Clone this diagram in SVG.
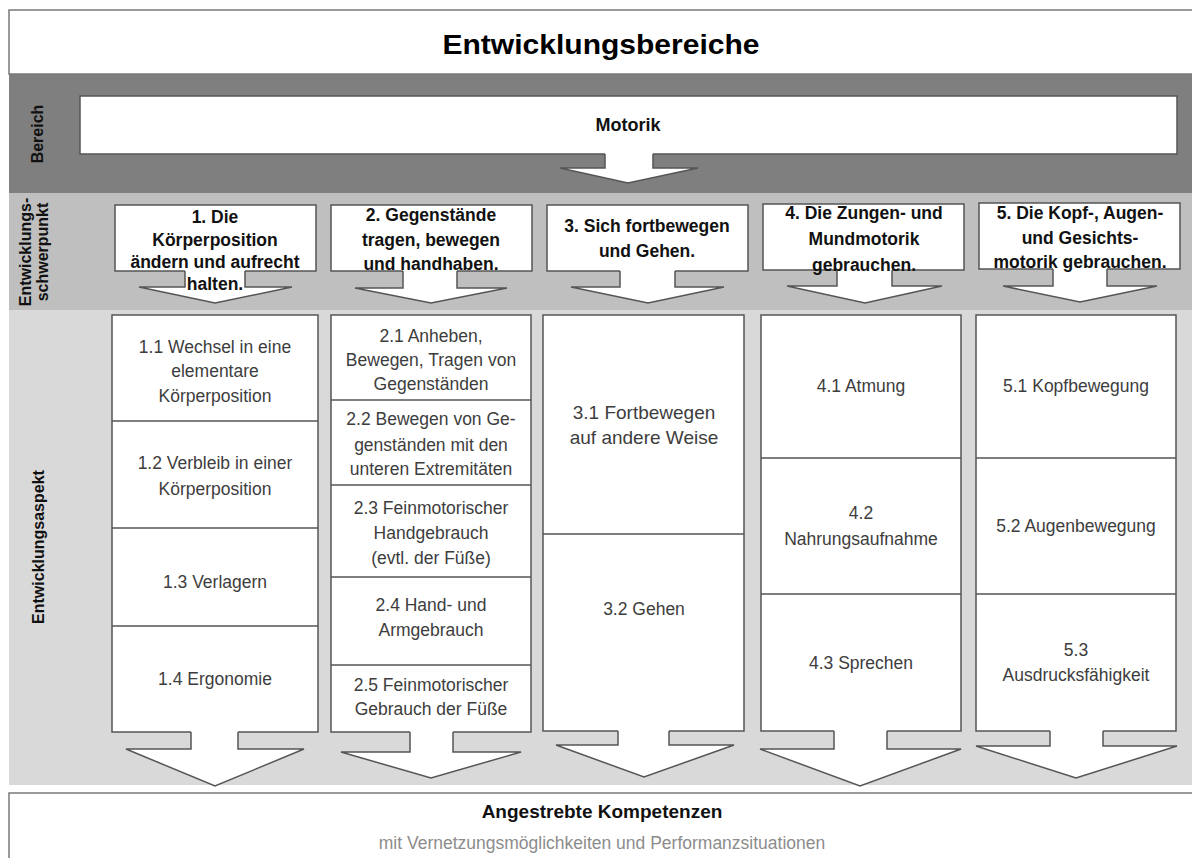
<svg xmlns="http://www.w3.org/2000/svg" width="1192" height="858" viewBox="0 0 1192 858">
<style>
.frame{fill:#fff;stroke:#7a7a7a;stroke-width:1.5}
.fill{fill:#fff;stroke:none}
.edge{fill:none;stroke:#555;stroke-width:1.5;stroke-linejoin:miter}
.arrow{fill:#fff;stroke:#555;stroke-width:1.5;stroke-linejoin:miter}
.div{stroke:#555;stroke-width:1.5}
.hdr{font-family:"Liberation Sans",Arial,sans-serif;font-weight:bold;font-size:17.5px;fill:#111;text-anchor:middle}
.asp{font-family:"Liberation Sans",Arial,sans-serif;font-size:17.5px;fill:#3d3d3d;text-anchor:middle}
.side{font-family:"Liberation Sans",Arial,sans-serif;font-weight:bold;font-size:16px;fill:#111;text-anchor:middle}
</style>
<rect x="0" y="0" width="1192" height="858" fill="#fff"/>
<g id="bands">
<rect x="9" y="74" width="1190" height="119" fill="#7f7f7f"/>
<rect x="9" y="193" width="1190" height="117" fill="#bfbfbf"/>
<rect x="9" y="310" width="1190" height="475" fill="#d9d9d9"/>
</g>
<g id="title">
<rect class="frame" x="9" y="10" width="1190" height="64"/>
<text x="601" y="54" font-family="Liberation Sans, Arial, sans-serif" font-weight="bold" font-size="28" text-anchor="middle" textLength="317" lengthAdjust="spacingAndGlyphs" fill="#000">Entwicklungsbereiche</text>
</g>
<g id="side-labels">
<text class="side" transform="translate(43,134) rotate(-90)">Bereich</text>
<text class="side" transform="translate(31,252) rotate(-90)">Entwicklungs-</text>
<text class="side" transform="translate(48,252) rotate(-90)">schwerpunkt</text>
<text class="side" transform="translate(44,547) rotate(-90)">Entwicklungsaspekt</text>
</g>
<g id="connectors">
<path class="arrow" d="M605,153 L605,168 L560,168 L628,183 L698,168 L653,168 L653,153"/>
<path class="arrow" d="M185,270 L185,287 L139,287 L215,303 L292,287 L245,287 L245,270"/>
<path class="arrow" d="M403,270 L403,288 L355,288 L431,303 L507,288 L457,288 L457,270"/>
<path class="arrow" d="M620,270 L620,287 L571,287 L648,303 L724,287 L675,287 L675,270"/>
<path class="arrow" d="M837,269 L837,286 L787,286 L865,303 L942,286 L892,286 L892,269"/>
<path class="arrow" d="M1053,268 L1053,286 L1003,286 L1080,302 L1157,286 L1107,286 L1107,268"/>
<path class="arrow" d="M191,731 L191,749 L126,749 L215,786 L304,749 L238,749 L238,731"/>
<path class="arrow" d="M410,731 L410,752 L341,752 L431,778 L521,752 L453,752 L453,731"/>
<path class="arrow" d="M618,730 L618,745 L556,745 L644,777 L734,745 L669,745 L669,730"/>
<path class="arrow" d="M834,730 L834,749 L760,749 L860,786 L961,749 L887,749 L887,730"/>
<path class="arrow" d="M1050,730 L1050,746 L976,746 L1076,778 L1177,746 L1103,746 L1103,730"/>
</g>
<g id="motorik">
<rect class="fill" x="80" y="96" width="1097" height="58"/>
<path class="edge" d="M605,154 L80,154 L80,96 L1177,96 L1177,154 L653,154"/>
<text x="628" y="131" font-family="Liberation Sans, Arial, sans-serif" font-weight="bold" font-size="18" text-anchor="middle" fill="#111">Motorik</text>
</g>
<g id="schwerpunkt-1">
<rect class="fill" x="115" y="205" width="201" height="66"/>
<path class="edge" d="M185,271 L115,271 L115,205 L316,205 L316,271 L245,271"/>
<text class="hdr" x="215" y="223">1. Die</text>
<text class="hdr" x="215" y="246">Körperposition</text>
<text class="hdr" x="215" y="268">ändern und aufrecht</text>
<text class="hdr" x="215" y="290">halten.</text>
</g>
<g id="schwerpunkt-2">
<rect class="fill" x="331" y="205" width="201" height="66"/>
<path class="edge" d="M403,271 L331,271 L331,205 L532,205 L532,271 L457,271"/>
<text class="hdr" x="431" y="221">2. Gegenstände</text>
<text class="hdr" x="431" y="246">tragen, bewegen</text>
<text class="hdr" x="431" y="270">und handhaben.</text>
</g>
<g id="schwerpunkt-3">
<rect class="fill" x="547" y="205" width="201" height="66"/>
<path class="edge" d="M620,271 L547,271 L547,205 L748,205 L748,271 L675,271"/>
<text class="hdr" x="647" y="232">3. Sich fortbewegen</text>
<text class="hdr" x="647" y="257">und Gehen.</text>
</g>
<g id="schwerpunkt-4">
<rect class="fill" x="763" y="204" width="201" height="66"/>
<path class="edge" d="M837,270 L763,270 L763,204 L964,204 L964,270 L892,270"/>
<text class="hdr" x="864" y="219">4. Die Zungen- und</text>
<text class="hdr" x="864" y="245">Mundmotorik</text>
<text class="hdr" x="864" y="271">gebrauchen.</text>
</g>
<g id="schwerpunkt-5">
<rect class="fill" x="979" y="203" width="201" height="66"/>
<path class="edge" d="M1053,269 L979,269 L979,203 L1180,203 L1180,269 L1107,269"/>
<text class="hdr" x="1080" y="219">5. Die Kopf-, Augen-</text>
<text class="hdr" x="1080" y="244">und Gesichts-</text>
<text class="hdr" x="1080" y="268">motorik gebrauchen.</text>
</g>
<g id="aspekt-1">
<rect class="fill" x="112" y="315" width="206" height="417"/>
<path class="edge" d="M191,732 L112,732 L112,315 L318,315 L318,732 L238,732"/>
<line class="div" x1="112" y1="421" x2="318" y2="421"/>
<line class="div" x1="112" y1="528" x2="318" y2="528"/>
<line class="div" x1="112" y1="626" x2="318" y2="626"/>
<text class="asp" x="215" y="353">1.1 Wechsel in eine</text>
<text class="asp" x="215" y="377">elementare</text>
<text class="asp" x="215" y="402">Körperposition</text>
<text class="asp" x="215" y="469">1.2 Verbleib in einer</text>
<text class="asp" x="215" y="495">Körperposition</text>
<text class="asp" x="215" y="588">1.3 Verlagern</text>
<text class="asp" x="215" y="685">1.4 Ergonomie</text>
</g>
<g id="aspekt-2">
<rect class="fill" x="331" y="315" width="200" height="417"/>
<path class="edge" d="M410,732 L331,732 L331,315 L531,315 L531,732 L453,732"/>
<line class="div" x1="331" y1="400" x2="531" y2="400"/>
<line class="div" x1="331" y1="485" x2="531" y2="485"/>
<line class="div" x1="331" y1="577" x2="531" y2="577"/>
<line class="div" x1="331" y1="665" x2="531" y2="665"/>
<text class="asp" x="431" y="342">2.1 Anheben,</text>
<text class="asp" x="431" y="366">Bewegen, Tragen von</text>
<text class="asp" x="431" y="390">Gegenständen</text>
<text class="asp" x="431" y="425">2.2 Bewegen von Ge-</text>
<text class="asp" x="431" y="451">genständen mit den</text>
<text class="asp" x="431" y="475">unteren Extremitäten</text>
<text class="asp" x="431" y="514">2.3 Feinmotorischer</text>
<text class="asp" x="431" y="539">Handgebrauch</text>
<text class="asp" x="431" y="564">(evtl. der Füße)</text>
<text class="asp" x="431" y="611">2.4 Hand- und</text>
<text class="asp" x="431" y="636">Armgebrauch</text>
<text class="asp" x="431" y="691">2.5 Feinmotorischer</text>
<text class="asp" x="431" y="715">Gebrauch der Füße</text>
</g>
<g id="aspekt-3">
<rect class="fill" x="543" y="315" width="201" height="416"/>
<path class="edge" d="M618,731 L543,731 L543,315 L744,315 L744,731 L669,731"/>
<line class="div" x1="543" y1="534" x2="744" y2="534"/>
<text class="asp" x="644" y="419" style="font-size:19px">3.1 Fortbewegen</text>
<text class="asp" x="644" y="444" style="font-size:19px">auf andere Weise</text>
<text class="asp" x="644" y="615">3.2 Gehen</text>
</g>
<g id="aspekt-4">
<rect class="fill" x="761" y="315" width="200" height="416"/>
<path class="edge" d="M834,731 L761,731 L761,315 L961,315 L961,731 L887,731"/>
<line class="div" x1="761" y1="458" x2="961" y2="458"/>
<line class="div" x1="761" y1="594" x2="961" y2="594"/>
<text class="asp" x="861" y="392">4.1 Atmung</text>
<text class="asp" x="861" y="519">4.2</text>
<text class="asp" x="861" y="545">Nahrungsaufnahme</text>
<text class="asp" x="861" y="669">4.3 Sprechen</text>
</g>
<g id="aspekt-5">
<rect class="fill" x="976" y="315" width="200" height="416"/>
<path class="edge" d="M1050,731 L976,731 L976,315 L1176,315 L1176,731 L1103,731"/>
<line class="div" x1="976" y1="458" x2="1176" y2="458"/>
<line class="div" x1="976" y1="594" x2="1176" y2="594"/>
<text class="asp" x="1076" y="392">5.1 Kopfbewegung</text>
<text class="asp" x="1076" y="532">5.2 Augenbewegung</text>
<text class="asp" x="1076" y="656">5.3</text>
<text class="asp" x="1076" y="681">Ausdrucksfähigkeit</text>
</g>
<g id="kompetenzen">
<rect class="frame" x="9" y="793" width="1190" height="80"/>
<text x="602" y="818" font-family="Liberation Sans, Arial, sans-serif" font-weight="bold" font-size="19" text-anchor="middle" fill="#111">Angestrebte Kompetenzen</text>
<text x="602" y="849" font-family="Liberation Sans, Arial, sans-serif" font-size="17.5" text-anchor="middle" fill="#8c8c8c">mit Vernetzungsmöglichkeiten und Performanzsituationen</text>
</g>
</svg>
